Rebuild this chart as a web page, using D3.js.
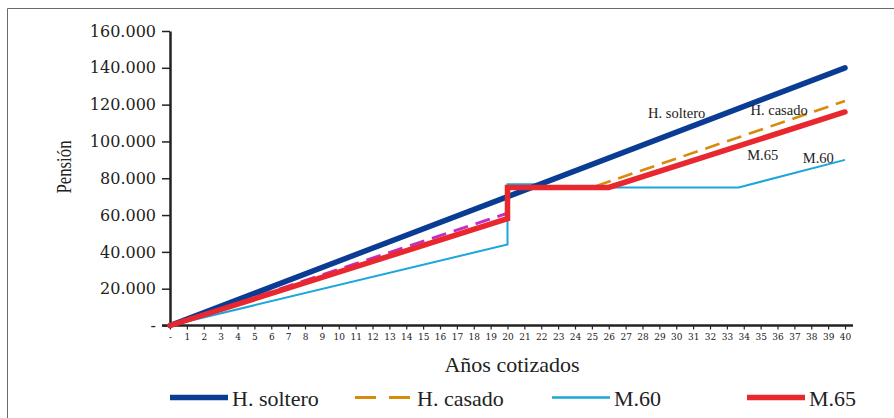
<!DOCTYPE html>
<html>
<head>
<meta charset="utf-8">
<script src="https://cdn.jsdelivr.net/npm/d3@7/dist/d3.min.js"></script>
<style>
  html, body { margin: 0; padding: 0; background: #fff; }
  svg { display: block; }
  .serif { font-family: "Liberation Serif", "Times New Roman", serif; }
  .dserif { font-family: "DejaVu Serif", serif; }
</style>
</head>
<body>
<svg id="chart" width="894" height="418"></svg>
<script>
// Pension by years of contribution
const xTickValues = [0,1,2,3,4,5,6,7,8,9,10,11,12,13,14,15,16,17,18,19,20,21,22,23,24,25,26,27,28,29,30,31,32,33,34,35,36,37,38,39,40];
const xTickLabels = ["-","1","2","3","4","5","6","7","8","9","10","11","12","13","14","15","16","17","18","19","20","21","22","23","24","25","26","27","28","29","30","31","32","33","34","35","36","37","38","39","40"];
const yTickValues = [0, 20000, 40000, 60000, 80000, 100000, 120000, 140000, 160000];
const yTickLabels = ["-", "20.000", "40.000", "60.000", "80.000", "100.000", "120.000", "140.000", "160.000"];

// Series vertices (years, pension)
const solteroYears  = [0, 40];
const solteroValues = [0, 140000];

const casadoPreYears  = [0, 20];
const casadoPreValues = [0, 61000];
const casadoYears  = [20, 20, 25, 40];
const casadoValues = [61000, 75000, 75000, 122000];

const m60Years  = [0, 20, 20, 22, 22.6, 33.7, 40];
const m60Values = [0, 44000, 76800, 76800, 75000, 75000, 90000];

const m65Years  = [0, 20, 20, 26, 40];
const m65Values = [0, 58000, 75000, 75000, 116000];

const seriesNames = ["H. soltero", "H. casado", "M.60", "M.65"];

const colors = {
  soltero: "#0b3c94",
  casado: "#d98a0a",
  casadoPre: "#c42fc2",
  m60: "#1ba7da",
  m65: "#e8282e"
};

const svg = d3.select("#chart");

// Outer frame
svg.append("path")
  .attr("d", "M7.5,418 V8.5 H894")
  .attr("fill", "none")
  .attr("stroke", "#6a6a6a")
  .attr("stroke-width", 1);

const x = d3.scaleLinear().domain([0, 40]).range([170, 845]);
const y = d3.scaleLinear().domain([0, 160000]).range([325.5, 31]);

// Y axis
const yAxis = svg.append("g")
  .attr("transform", `translate(${x(0)},0)`)
  .call(d3.axisLeft(y)
    .tickValues(yTickValues)
    .tickFormat((d, i) => yTickLabels[i])
    .tickSize(8)
    .tickSizeOuter(0)
    .tickPadding(6));
yAxis.attr("font-family", null).attr("font-size", null);
yAxis.select(".domain").attr("stroke", "#222").attr("stroke-width", 2.5);
yAxis.selectAll(".tick line").attr("stroke", "#222").attr("stroke-width", 1.5);
yAxis.selectAll(".tick text")
  .attr("class", "dserif")
  .attr("fill", "#222")
  .attr("font-size", 16);

// X axis
const xAxis = svg.append("g")
  .attr("transform", `translate(0,${y(0)})`)
  .call(d3.axisBottom(x)
    .tickValues(xTickValues)
    .tickFormat((d, i) => xTickLabels[i])
    .tickSize(4)
    .tickSizeOuter(0)
    .tickPadding(4));
xAxis.attr("font-family", null).attr("font-size", null);
xAxis.select(".domain").remove();
xAxis.append("line")
  .attr("x1", x(0) - 8).attr("x2", x(40) + 8)
  .attr("y1", 0).attr("y2", 0)
  .attr("stroke", "#222").attr("stroke-width", 2.5);
xAxis.selectAll(".tick line").attr("stroke", "#222").attr("stroke-width", 1.2);
xAxis.selectAll(".tick text")
  .attr("class", "dserif")
  .attr("fill", "#222")
  .attr("font-size", 9);

// Axis titles
svg.append("text")
  .attr("class", "serif")
  .attr("x", 512).attr("y", 372)
  .attr("text-anchor", "middle")
  .attr("font-size", 22)
  .attr("fill", "#222")
  .text("Años cotizados");

svg.append("text")
  .attr("class", "serif")
  .attr("transform", "translate(71,167) rotate(-90)")
  .attr("text-anchor", "middle")
  .attr("font-size", 21)
  .attr("textLength", 53)
  .attr("lengthAdjust", "spacingAndGlyphs")
  .attr("fill", "#222")
  .text("Pensión");

// Lines
const line = d3.line().x(d => x(d[0])).y(d => y(d[1]));
const pts = (xs, vs) => xs.map((v, i) => [v, vs[i]]);

const plot = svg.append("g");

plot.append("path")
  .attr("d", line(pts(m60Years, m60Values)))
  .attr("fill", "none").attr("stroke", colors.m60).attr("stroke-width", 2);

plot.append("path")
  .attr("d", line(pts(casadoPreYears, casadoPreValues)))
  .attr("fill", "none").attr("stroke", colors.casadoPre).attr("stroke-width", 3)
  .attr("stroke-dasharray", "15,8");

plot.append("path")
  .attr("d", line(pts(casadoYears, casadoValues)))
  .attr("fill", "none").attr("stroke", colors.casado).attr("stroke-width", 2.6)
  .attr("stroke-dasharray", "15,8");

plot.append("path")
  .attr("d", line(pts(solteroYears, solteroValues)))
  .attr("fill", "none").attr("stroke", colors.soltero).attr("stroke-width", 5.5)
  .attr("stroke-linecap", "round");

plot.append("path")
  .attr("d", line(pts(m65Years, m65Values)))
  .attr("fill", "none").attr("stroke", colors.m65).attr("stroke-width", 5.5)
  .attr("stroke-linecap", "round").attr("stroke-linejoin", "miter");

// In-plot series labels, anchored in data coordinates
const labelAnchors = [
  { text: "H. soltero", yr: 28.33, val: 112700 },
  { text: "H. casado",  yr: 34.4,  val: 114300 },
  { text: "M.65",       yr: 34.2,  val: 90000 },
  { text: "M.60",       yr: 37.5,  val: 88500 }
];
svg.append("g").selectAll("text")
  .data(labelAnchors)
  .join("text")
  .attr("class", "serif")
  .attr("x", d => x(d.yr))
  .attr("y", d => y(d.val))
  .attr("font-size", 14.5)
  .attr("fill", "#222")
  .text(d => d.text);

// Legend
const legendX = [170, 355, 552, 747];
const legendY = 397.5;
const lg = svg.append("g");
const swatch = [
  { color: colors.soltero, w: 5.5, dash: null },
  { color: colors.casado, w: 2.8, dash: "21,13" },
  { color: colors.m60, w: 2.6, dash: null },
  { color: colors.m65, w: 5.5, dash: null }
];
seriesNames.forEach((name, i) => {
  const g = lg.append("g").attr("transform", `translate(${legendX[i]},${legendY})`);
  g.append("line")
    .attr("x1", 0).attr("x2", 58).attr("y1", 0).attr("y2", 0)
    .attr("stroke", swatch[i].color)
    .attr("stroke-width", swatch[i].w)
    .attr("stroke-dasharray", swatch[i].dash);
  g.append("text")
    .attr("class", "serif")
    .attr("x", 62).attr("y", 8.5)
    .attr("font-size", 22)
    .attr("fill", "#222")
    .text(name);
});
</script>
</body>
</html>
